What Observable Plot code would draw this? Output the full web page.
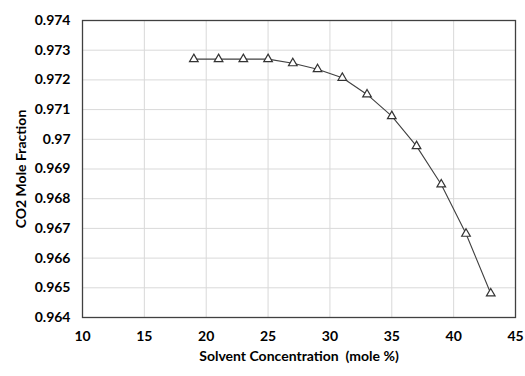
<!DOCTYPE html>
<html><head><meta charset="utf-8">
<script src="https://cdn.jsdelivr.net/npm/d3@7"></script>
<script src="https://cdn.jsdelivr.net/npm/@observablehq/plot@0.6"></script>
<style>
body{margin:0;background:#fff;}
svg{font-family:Lato,"Open Sans",sans-serif;}
</style>
</head><body><div id="chart"></div>
<script>
const solventConc = [19, 21, 23, 25, 27, 29, 31, 33, 35, 37, 39, 41, 43];
const co2Fraction = [0.97270, 0.97270, 0.97270, 0.97270, 0.97256, 0.97236, 0.97207, 0.97151, 0.97078, 0.96977, 0.96848, 0.96682, 0.96481];
const xTicks = [10, 15, 20, 25, 30, 35, 40, 45];
const yTicks = [0.964, 0.965, 0.966, 0.967, 0.968, 0.969, 0.970, 0.971, 0.972, 0.973, 0.974];
const data = solventConc.map((x, i) => ({x, y: co2Fraction[i]}));

const chart = Plot.plot({
  width: 525, height: 376,
  marginLeft: 82, marginRight: 10, marginTop: 20, marginBottom: 59,
  style: {fontFamily: "Lato, 'Open Sans', sans-serif", fontSize: "13px", color: "#404040", background: "#fff"},
  x: {domain: [10, 45], ticks: xTicks},
  y: {domain: [0.964, 0.974], ticks: yTicks},
  marks: [
    Plot.gridX(xTicks, {stroke: "#d9d9d9", strokeOpacity: 1, strokeWidth: 1}),
    Plot.gridY(yTicks, {stroke: "#d9d9d9", strokeOpacity: 1, strokeWidth: 1}),
    Plot.axisX(xTicks, {tickSize: 0, tickPadding: 14, fontSize: 13, fill: "#404040",
      label: "Solvent Concentration  (mole %)", labelAnchor: "center", labelArrow: "none", labelOffset: 43}),
    Plot.axisY(yTicks, {tickSize: 0, tickPadding: 12, fontSize: 13, fill: "#404040",
      tickFormat: d => String(+d.toFixed(3)),
      label: "CO2 Mole Fraction", labelAnchor: "center", labelArrow: "none", labelOffset: 66}),
    Plot.frame({stroke: "#404040", strokeWidth: 1.3}),
    Plot.line(data, {x: "x", y: "y", stroke: "#404040", strokeWidth: 1.1}),
    Plot.dot(data, {x: "x", y: "y", symbol: "triangle", r: 3.2, stroke: "#333", strokeWidth: 1.2, fill: "#fff"})
  ]
});
chart.querySelectorAll("[aria-label$='axis label'] text, g[aria-label$='label'] text").forEach(t => {
  t.style.fontWeight = "bold"; t.style.fill = "#000"; t.style.fontSize = "14px";
});
document.getElementById("chart").appendChild(chart);
</script></body></html>
